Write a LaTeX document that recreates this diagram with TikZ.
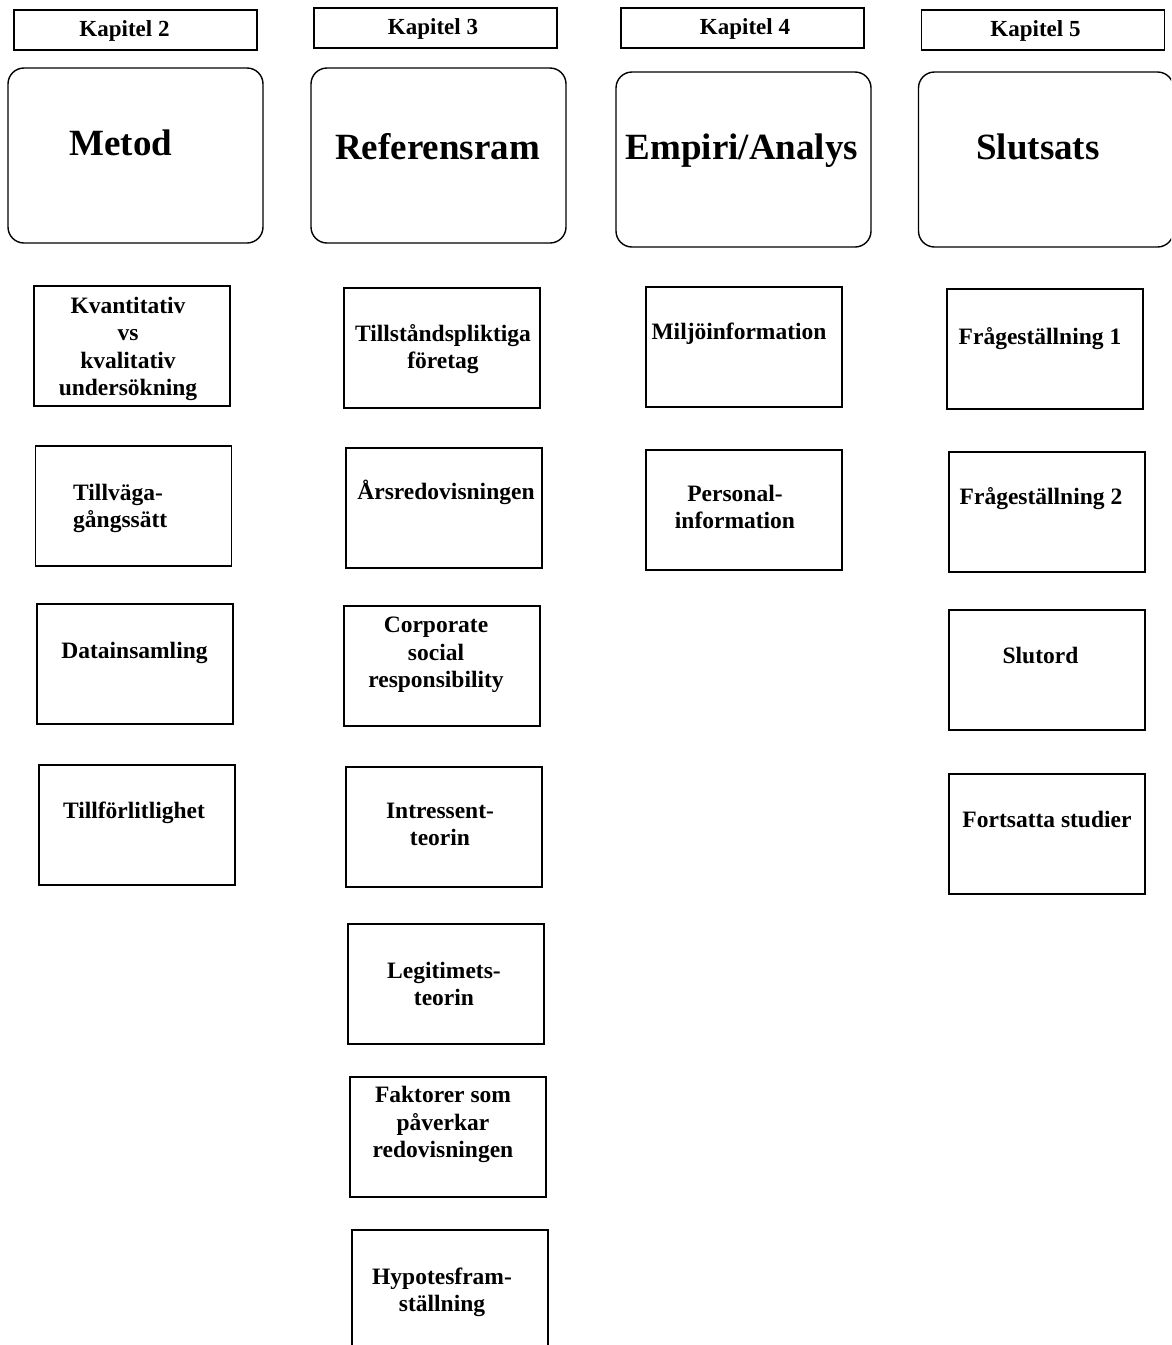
\documentclass[tikz,border=0pt]{standalone}
\usepackage{fontspec}
\setmainfont{Liberation Serif}
\usepackage{tikz}

\begin{document}
\begin{tikzpicture}[x=1pt, y=-1pt]
        \tikzset{kapbox/.style={draw, line width=1.4pt, inner sep=0pt, minimum width=243pt, minimum height=40pt}}
        \tikzset{rubrik/.style={draw, line width=1.4pt, rounded corners=16pt, inner sep=0pt, minimum width=255pt, minimum height=175pt}}
        \tikzset{ruta/.style={draw, line width=1.4pt, inner sep=0pt, minimum width=196pt, minimum height=120pt}}
        \tikzset{kaptext/.style={font=\fontsize{23}{27}\selectfont\bfseries, inner sep=0pt, text height=15pt, text depth=0pt}}
        \tikzset{stortext/.style={font=\fontsize{37}{44}\selectfont\bfseries, inner sep=0pt, text height=25pt, text depth=0pt}}
        \tikzset{rutext/.style={font=\fontsize{23.5}{27.5}\selectfont\bfseries, align=center, inner sep=0pt, text height=15pt, text depth=0pt}}

        \useasboundingbox (0,0) rectangle (1171,1345);
        \clip (0,0) rectangle (1171,1345);

        % kapitelrutor
        \node[kapbox] (kap2) at (135.5,30) {};
        \node[kapbox] (kap3) at (435.5,28) {};
        \node[kapbox] (kap4) at (742.5,28) {};
        \node[kapbox] (kap5) at (1043,30) {};
        \node[kaptext] (kap2text) at (124.5,29) {Kapitel 2};
        \node[kaptext] (kap3text) at (433,27) {Kapitel 3};
        \node[kaptext] (kap4text) at (745,27) {Kapitel 4};
        \node[kaptext] (kap5text) at (1035.5,29) {Kapitel 5};

        % rubriker
        \node[rubrik] (metod) at (135.5,155.5) {};
        \node[rubrik] (referensram) at (438.5,155.5) {};
        \node[rubrik] (empiri) at (743.5,159.5) {};
        \node[rubrik] (slutsats) at (1046,159.5) {};
        \node[stortext] (metodtext) at (121,143) {Metod};
        \node[stortext] (referensramtext) at (437.5,147) {Referensram};
        \node[stortext] (empiritext) at (742,147) {Empiri/Analys};
        \node[stortext] (slutsatstext) at (1038,147) {Slutsats};

        % kapitel 2 (y = sista radens mitt)
        \node[ruta] (kvant) at (132,346) {};
        \node[ruta] (tillv) at (133.5,506) {};
        \node[ruta] (data) at (135,664) {};
        \node[ruta] (tillf) at (137,825) {};
        \node[rutext] (kvanttext) at (128,388) {Kvantitativ\\vs\\kvalitativ\\undersökning};
        \node[rutext, align=left, anchor=west] (tillvtext) at (73,520) {Tillväga-\\gångssätt};
        \node[rutext] (datatext) at (134.5,651) {Datainsamling};
        \node[rutext] (tillftext) at (134,811) {Tillförlitlighet};

        % kapitel 3
        \node[ruta] (tillst) at (442,348) {};
        \node[ruta] (ars) at (444,508) {};
        \node[ruta] (csr) at (442,666) {};
        \node[ruta] (intr) at (444,827) {};
        \node[ruta] (legit) at (446,984) {};
        \node[ruta] (fakt) at (448,1137) {};
        \node[ruta] (hypo) at (450,1290) {};
        \node[rutext] (tillsttext) at (443,361) {Tillståndspliktiga\\företag};
        \node[rutext] (arstext) at (446,492) {Årsredovisningen};
        \node[rutext] (csrtext) at (436,680) {Corporate\\social\\responsibility};
        \node[rutext] (intrtext) at (440,838) {Intressent-\\teorin};
        \node[rutext] (legittext) at (444,998) {Legitimets-\\teorin};
        \node[rutext] (fakttext) at (443,1150) {Faktorer som\\påverkar\\redovisningen};
        \node[rutext] (hypotext) at (442,1304) {Hypotesfram-\\ställning};

        % kapitel 4
        \node[ruta] (miljo) at (744,347) {};
        \node[ruta] (pers) at (744,510) {};
        \node[rutext] (miljotext) at (739,332) {Miljöinformation};
        \node[rutext] (perstext) at (735,521) {Personal-\\information};

        % kapitel 5
        \node[ruta] (fraga1) at (1045,349) {};
        \node[ruta] (fraga2) at (1047,512) {};
        \node[ruta] (slutord) at (1047,670) {};
        \node[ruta] (forts) at (1047,834) {};
        \node[rutext] (fraga1text) at (1040,337) {Frågeställning 1};
        \node[rutext] (fraga2text) at (1041,497) {Frågeställning 2};
        \node[rutext] (slutordtext) at (1040.5,656) {Slutord};
        \node[rutext] (fortstext) at (1047,820) {Fortsatta studier};
    \end{tikzpicture}
\end{document}
